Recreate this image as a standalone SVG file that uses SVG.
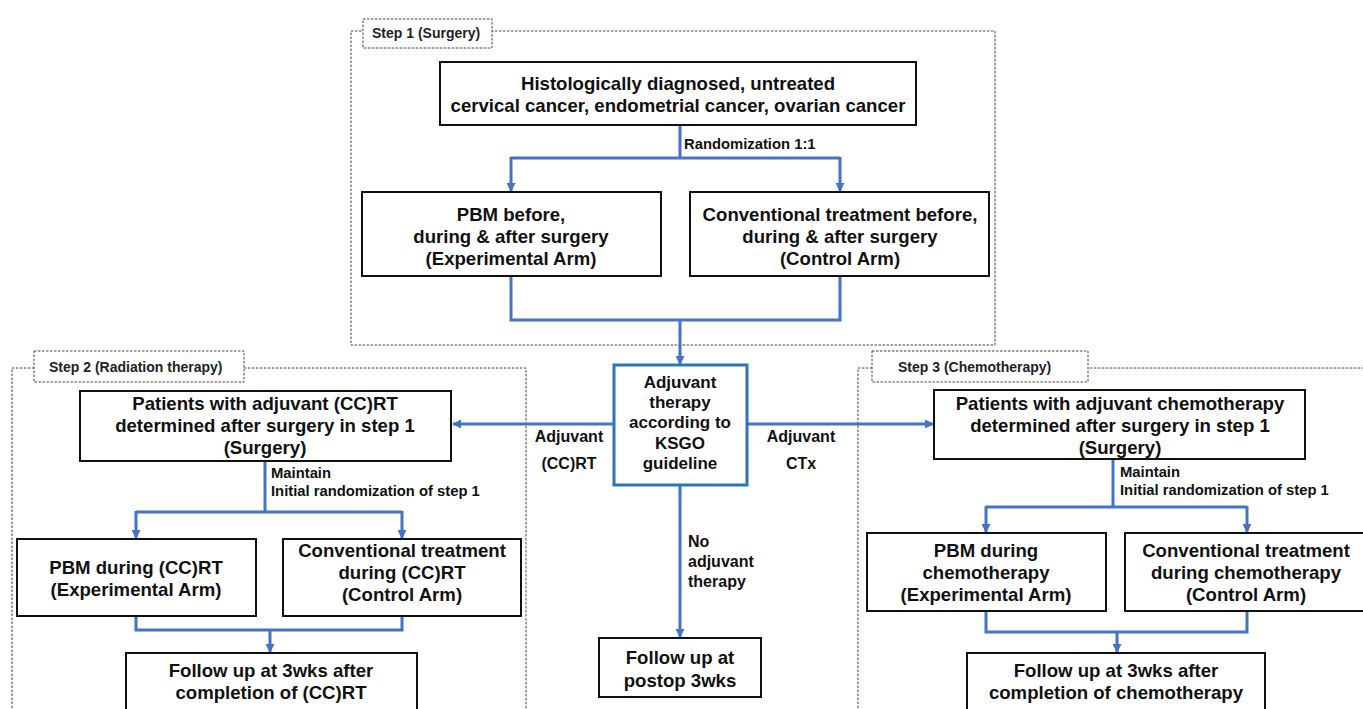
<svg xmlns="http://www.w3.org/2000/svg" width="1363" height="709" viewBox="0 0 1363 709">
<defs>
<marker id="ah" markerWidth="9" markerHeight="9" refX="8" refY="4.5" orient="auto" markerUnits="userSpaceOnUse" viewBox="0 0 9 9">
<path d="M0,0 L9,4.5 L0,9 z" fill="#4472C4"/>
</marker>
<style>
.dash{fill:none;stroke:#444;stroke-width:1;stroke-dasharray:2.5,1.5}
.lbl{fill:#fff;stroke:#444;stroke-width:1;stroke-dasharray:2.5,1.5}
.box{fill:#fff;stroke:#111;stroke-width:2}
.cbox{fill:#fff;stroke:#2E75B6;stroke-width:3}
.t{font-family:"Liberation Sans",Arial,sans-serif;font-weight:bold;font-size:18.6px;fill:#111;text-anchor:middle}
.tc{font-family:"Liberation Sans",Arial,sans-serif;font-weight:bold;font-size:17px;fill:#111;text-anchor:middle}
.s{font-family:"Liberation Sans",Arial,sans-serif;font-weight:bold;font-size:14.8px;fill:#111}
.st{font-family:"Liberation Sans",Arial,sans-serif;font-weight:bold;font-size:14px;fill:#222}
.m{font-family:"Liberation Sans",Arial,sans-serif;font-weight:bold;font-size:16px;fill:#111}
.c{fill:none;stroke:#4472C4;stroke-width:3}
.ca{fill:none;stroke:#4472C4;stroke-width:3;marker-end:url(#ah)}
</style>
</defs>

<g id="frames">
<rect class="dash" x="351" y="31" width="644" height="314"/>
<rect class="lbl" x="363" y="19" width="129" height="29"/>
<text class="st" x="372" y="38">Step 1 (Surgery)</text>
<rect class="dash" x="12" y="368" width="514" height="350"/>
<rect class="lbl" x="34" y="351" width="210" height="31"/>
<text class="st" x="49" y="372">Step 2 (Radiation therapy)</text>
<rect class="dash" x="858" y="368" width="520" height="350"/>
<rect class="lbl" x="872" y="351" width="216" height="31"/>
<text class="st" x="898" y="372">Step 3 (Chemotherapy)</text>
</g>

<g id="connectors">
<path class="c" d="M680,125 V158 M511,158 H840"/>
<path class="ca" d="M511,157 V191"/>
<path class="ca" d="M840,157 V191"/>
<path class="c" d="M511,276 V320 H840 V276"/>
<path class="ca" d="M680,320 V364"/>
<path class="ca" d="M614,424 H453"/>
<path class="ca" d="M747,424 H933"/>
<path class="ca" d="M680,485 V637"/>
<path class="c" d="M265,461 V512 M136,512 H402"/>
<path class="ca" d="M136,511 V538"/>
<path class="ca" d="M402,511 V538"/>
<path class="c" d="M136,616 V630 H402 V616"/>
<path class="ca" d="M270,630 V652"/>
<path class="c" d="M1113,459 V507 M986,507 H1247"/>
<path class="ca" d="M986,506 V532"/>
<path class="ca" d="M1247,506 V532"/>
<path class="c" d="M986,611 V632 H1247 V611"/>
<path class="ca" d="M1117,632 V652"/>
<text class="s" x="684" y="149">Randomization 1:1</text>
<text class="m" x="569" y="442" text-anchor="middle">Adjuvant</text>
<text class="m" x="569" y="469" text-anchor="middle">(CC)RT</text>
<text class="m" x="801" y="442" text-anchor="middle">Adjuvant</text>
<text class="m" x="801" y="469" text-anchor="middle">CTx</text>
<text class="m" x="688" y="547">No</text>
<text class="m" x="688" y="567">adjuvant</text>
<text class="m" x="688" y="587">therapy</text>
<text class="s" x="271" y="478">Maintain</text>
<text class="s" x="271" y="496">Initial randomization of step 1</text>
<text class="s" x="1120" y="477">Maintain</text>
<text class="s" x="1120" y="495">Initial randomization of step 1</text>
</g>

<g id="n-diag">
<rect class="box" x="440" y="62" width="476" height="63"/>
<text class="t" x="678" y="90">Histologically diagnosed, untreated</text>
<text class="t" x="678" y="112">cervical cancer, endometrial cancer, ovarian cancer</text>
</g>
<g id="n-pbm1">
<rect class="box" x="362" y="192" width="299" height="84"/>
<text class="t" x="511" y="221">PBM before,</text>
<text class="t" x="511" y="243">during &amp; after surgery</text>
<text class="t" x="511" y="265">(Experimental Arm)</text>
</g>
<g id="n-conv1">
<rect class="box" x="690" y="192" width="299" height="84"/>
<text class="t" x="840" y="221">Conventional treatment before,</text>
<text class="t" x="840" y="243">during &amp; after surgery</text>
<text class="t" x="840" y="265">(Control Arm)</text>
</g>
<g id="n-adj">
<rect class="cbox" x="614" y="365" width="133" height="120"/>
<text class="tc" x="680" y="388">Adjuvant</text>
<text class="tc" x="680" y="408">therapy</text>
<text class="tc" x="680" y="428">according to</text>
<text class="tc" x="680" y="449">KSGO</text>
<text class="tc" x="680" y="469">guideline</text>
</g>
<g id="n-fu0">
<rect class="box" x="599" y="638" width="162" height="59"/>
<text class="t" x="680" y="664">Follow up at</text>
<text class="t" x="680" y="687">postop 3wks</text>
</g>
<g id="n-rt">
<rect class="box" x="80" y="391" width="371" height="70"/>
<text class="t" x="265" y="410">Patients with adjuvant (CC)RT</text>
<text class="t" x="265" y="432">determined after surgery in step 1</text>
<text class="t" x="265" y="454">(Surgery)</text>
</g>
<g id="n-pbm2">
<rect class="box" x="17" y="539" width="239" height="77"/>
<text class="t" x="136" y="574">PBM during (CC)RT</text>
<text class="t" x="136" y="596">(Experimental Arm)</text>
</g>
<g id="n-conv2">
<rect class="box" x="283" y="539" width="238" height="77"/>
<text class="t" x="402" y="557">Conventional treatment</text>
<text class="t" x="402" y="579">during (CC)RT</text>
<text class="t" x="402" y="601">(Control Arm)</text>
</g>
<g id="n-fu2">
<rect class="box" x="126" y="653" width="291" height="70"/>
<text class="t" x="271" y="677">Follow up at 3wks after</text>
<text class="t" x="271" y="699">completion of (CC)RT</text>
</g>
<g id="n-ct">
<rect class="box" x="934" y="390" width="371" height="69"/>
<text class="t" x="1120" y="410">Patients with adjuvant chemotherapy</text>
<text class="t" x="1120" y="432">determined after surgery in step 1</text>
<text class="t" x="1120" y="454">(Surgery)</text>
</g>
<g id="n-pbm3">
<rect class="box" x="867" y="533" width="239" height="78"/>
<text class="t" x="986" y="557">PBM during</text>
<text class="t" x="986" y="579">chemotherapy</text>
<text class="t" x="986" y="601">(Experimental Arm)</text>
</g>
<g id="n-conv3">
<rect class="box" x="1125" y="533" width="250" height="78"/>
<text class="t" x="1246" y="557">Conventional treatment</text>
<text class="t" x="1246" y="579">during chemotherapy</text>
<text class="t" x="1246" y="601">(Control Arm)</text>
</g>
<g id="n-fu3">
<rect class="box" x="967" y="653" width="298" height="70"/>
<text class="t" x="1116" y="677">Follow up at 3wks after</text>
<text class="t" x="1116" y="699">completion of chemotherapy</text>
</g>
</svg>
